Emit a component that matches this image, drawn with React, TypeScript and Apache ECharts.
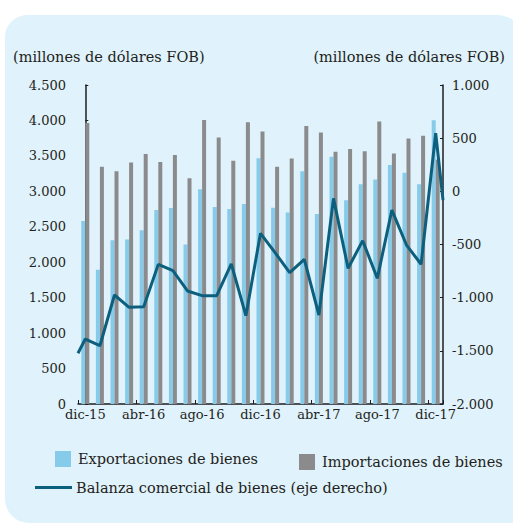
import React, { useEffect, useRef } from "react";
import * as echarts from "echarts";

const months = [
  "dic-15", "ene-16", "feb-16", "mar-16", "abr-16", "may-16", "jun-16", "jul-16", "ago-16", "sep-16", "oct-16", "nov-16",
  "dic-16", "ene-17", "feb-17", "mar-17", "abr-17", "may-17", "jun-17", "jul-17", "ago-17", "sep-17", "oct-17", "nov-17", "dic-17",
];
const exportaciones = [
  2580, 1895, 2310, 2320, 2450, 2735, 2765, 2250, 3030, 2780, 2750, 2820,
  3465, 2770, 2700, 3285, 2680, 3487, 2875, 3100, 3168, 3370, 3262, 3100, 4004,
];
const importaciones = [
  3965, 3346, 3285, 3405, 3525, 3415, 3512, 3185, 4005, 3760, 3432, 3975,
  3845, 3346, 3464, 3920, 3830, 3558, 3596, 3567, 3985, 3534, 3745, 3785, 3450,
];
const balanza = [
  -1389, -1452, -975, -1091, -1085, -687, -746, -937, -981, -981, -683, -1169,
  -395, -577, -765, -640, -1163, -66, -724, -464, -818, -176, -505, -686, 546,
];
// line continues half a month beyond the first and last month, to the axes
const balanzaInicio = -1523;
const balanzaFin = -82;

const leftTicks = { min: 0, max: 4500, interval: 500 };
const rightTicks = { min: -2000, max: 1000, interval: 500 };

const FONT = "DejaVu Serif";
const TEXT = "#231f20";
const C_EXP = "#86cbea";
const C_IMP = "#8b8b8d";
const C_BAL = "#0d5f7e";

const fmt = (v: number) => {
  const neg = v < 0;
  const s = Math.abs(v).toString().replace(/\B(?=(\d{3})+(?!\d))/g, ".");
  return (neg ? "-" : "") + s;
};

export default function App() {
  const ref = useRef<HTMLDivElement>(null);
  useEffect(() => {
    if (!ref.current) return;
    const chart = echarts.init(ref.current, undefined, { renderer: "svg" });
    const lineData: [number, number][] = [[-0.5, balanzaInicio]];
    balanza.forEach((v, i) => lineData.push([i, v]));
    lineData.push([months.length - 0.5, balanzaFin]);

    const legendText = { fontFamily: FONT, fontSize: 14.5, color: TEXT };

    chart.setOption({
      animation: false,
      backgroundColor: "transparent",
      textStyle: { fontFamily: FONT, color: TEXT },
      grid: { left: 78, right: 70, top: 85, bottom: 121, containLabel: false },
      legend: [
        {
          data: ["Exportaciones de bienes"],
          left: 55, top: 451,
          itemWidth: 16, itemHeight: 16, icon: "rect",
          textStyle: { ...legendText, padding: [0, 0, 0, 2] },
          padding: 0,
        },
        {
          data: ["Importaciones de bienes"],
          left: 299, top: 454,
          itemWidth: 16, itemHeight: 16, icon: "rect",
          textStyle: { ...legendText, padding: [0, 0, 0, 2] },
          padding: 0,
        },
        {
          data: ["Balanza comercial de bienes (eje derecho)"],
          left: 35, top: 480,
          itemWidth: 37, itemHeight: 3, icon: "rect",
          textStyle: { ...legendText, padding: [0, 0, 0, -1] },
          padding: 0,
        },
      ],
      xAxis: [
        {
          type: "category",
          data: months,
          boundaryGap: true,
          axisLine: { show: true, lineStyle: { color: "#1e1e1e", width: 1.5 } },
          axisTick: { show: true, inside: true, interval: 3, length: 4, lineStyle: { color: "#1e1e1e" } },
          axisLabel: { interval: 3, fontFamily: FONT, fontSize: 13, color: TEXT, margin: 4 },
          splitLine: { show: false },
        },
        {
          type: "value",
          min: -0.5,
          max: months.length - 0.5,
          show: false,
        },
      ],
      yAxis: [
        {
          type: "value",
          ...leftTicks,
          axisLine: { show: true, lineStyle: { color: "#1e1e1e", width: 1.5 } },
          axisTick: { show: true, inside: true, length: 3, lineStyle: { color: "#1e1e1e" } },
          axisLabel: { fontFamily: FONT, fontSize: 13, color: TEXT, margin: 12, formatter: fmt },
          splitLine: { show: false },
        },
        {
          type: "value",
          position: "right",
          ...rightTicks,
          axisLine: { show: true, lineStyle: { color: "#1e1e1e", width: 1.5 } },
          axisTick: { show: true, inside: true, length: 3, lineStyle: { color: "#1e1e1e" } },
          axisLabel: { fontFamily: FONT, fontSize: 13, color: TEXT, margin: 9, formatter: fmt },
          splitLine: { show: false },
        },
      ],
      series: [
        {
          name: "Exportaciones de bienes",
          type: "bar",
          data: exportaciones,
          barWidth: 4,
          barGap: "0%",
          itemStyle: { color: C_EXP },
        },
        {
          name: "Importaciones de bienes",
          type: "bar",
          data: importaciones,
          barWidth: 4,
          barGap: "0%",
          itemStyle: { color: C_IMP },
        },
        {
          name: "Balanza comercial de bienes (eje derecho)",
          type: "line",
          xAxisIndex: 1,
          yAxisIndex: 1,
          data: lineData,
          symbol: "none",
          lineStyle: { color: C_BAL, width: 3 },
          itemStyle: { color: C_BAL },
        },
      ],
      graphic: [
        {
          type: "text",
          left: 13,
          top: 49,
          style: { text: "(millones de dólares FOB)", fontFamily: FONT, fontSize: 14.5, fill: TEXT },
        },
        {
          type: "text",
          right: 8,
          top: 49,
          style: { text: "(millones de dólares FOB)", fontFamily: FONT, fontSize: 14.5, fill: TEXT },
        },
      ],
    });
    return () => chart.dispose();
  }, []);

  return (
    <div style={{ position: "fixed", left: 0, top: 0, width: 513, height: 525, background: "#ffffff", overflow: "hidden" }}>
      <div
        style={{
          position: "absolute",
          left: 5,
          top: 15,
          width: 520,
          height: 508,
          background: "#e0f2fb",
          borderRadius: "22px 28px 0 24px",
        }}
      />
      <div ref={ref} style={{ position: "absolute", left: 0, top: 0, width: 513, height: 525 }} />
    </div>
  );
}
